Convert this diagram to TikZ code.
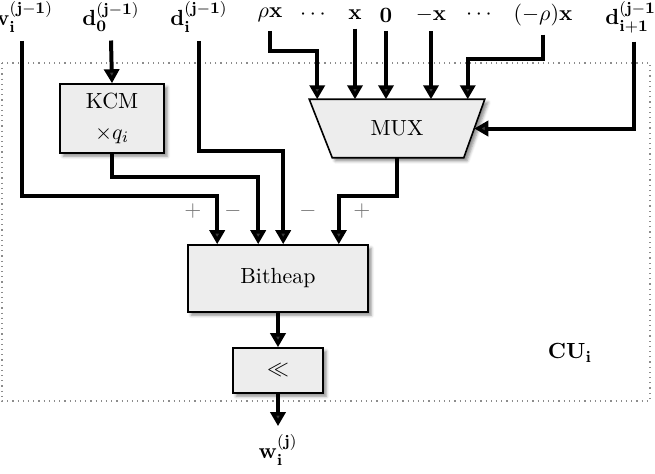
\documentclass[tikz,border=0pt,11pt]{standalone}
\usetikzlibrary{arrows.meta,calc,shadows.blur}

\tikzset{every picture/.style={line width=0.75pt}}
\tikzset{
  wire/.style={line width=2pt,-{Triangle[length=7pt,width=7.5pt]}},
  boxshadow/.style={blur shadow={shadow xshift=1.6pt,shadow yshift=-1.6pt,shadow blur radius=1.5pt,shadow opacity=45}},
  unit/.style={draw,line width=0.8pt,fill=black!7,inner sep=0pt,boxshadow},
  sig/.style={inner sep=4pt},
  sign/.style={text=black!55}
}

\begin{document}
\begin{tikzpicture}[x=0.5pt,y=0.5pt,yscale=-1]
	\useasboundingbox (0,0) rectangle (655,473);
	
	%Shape: CU frame
	\draw [black!45,dotted,line width=0.6pt] (2,63) rectangle (650,401);
	% Text Node
	\node (cu) at (570,353) {$\mathbf{CU_i}$};
	
	% Text Node
	\node [sig] (win) at (22,17) {$\mathbf{w_i^{(j-1)}}$};
	% Text Node
	\node [sig] (d0in) at (111,17) {$\mathbf{d_0^{(j-1)}}$};
	% Text Node
	\node [sig] (diin) at (199,17) {$\mathbf{d_i^{(j-1)}}$};
	% Text Node
	\node [sig] (rhox) at (270,15) {$\rho\mathbf{x}$};
	% Text Node
	\node (dots1) at (313,15) {$\cdots$};
	% Text Node
	\node [sig] (xpos) at (355,15) {$\mathbf{x}$};
	% Text Node
	\node [sig] (zero) at (386,15) {$\mathbf{0}$};
	% Text Node
	\node [sig] (xneg) at (431,15) {$-\mathbf{x}$};
	% Text Node
	\node (dots2) at (479,15) {$\cdots$};
	% Text Node
	\node [sig] (rhoneg) at (543,15) {$(-\rho)\mathbf{x}$};
	% Text Node
	\node [sig] (dnext) at (634,17) {$\mathbf{d_{i+1}^{(j-1)}}$};
	
	%Shape: KCM
	\node [unit,minimum width=52pt,minimum height=34.5pt,align=center] (kcm) at (112,118.5) {KCM\\[2pt]$\times q_i$};
	%Shape: MUX
	\node [minimum width=87pt,minimum height=28.5pt,inner sep=0pt] (mux) at (397,128.5) {};
	\path [draw,line width=0.8pt,fill=black!7,boxshadow] (mux.north west) -- (mux.north east) -- ($(mux.south east)+(-21,0)$) -- ($(mux.south west)+(23,0)$) -- cycle;
	\node (muxt) at (mux) {MUX};
	%Shape: Bitheap
	\node [unit,minimum width=90pt,minimum height=33.5pt] (bh) at (278,278.5) {Bitheap};
	%Shape: Shift
	\node [unit,minimum width=45pt,minimum height=22.5pt] (sh) at (278,370.5) {$\ll$};
	% Text Node
	\node [sig] (wout) at (278,450) {$\mathbf{w_i^{(j)}}$};
	
	%Lines into the mux
	\draw [wire] (rhox.south) |- ($(mux.north west)+(8,-48)$) -- ($(mux.north west)+(8,0)$);
	\draw [wire] (xpos.south) -- (xpos.south |- mux.north);
	\draw [wire] (zero.south) -- (zero.south |- mux.north);
	\draw [wire] (xneg.south) -- (xneg.south |- mux.north);
	\draw [wire] (rhoneg.south) |- ($(mux.north east)+(-17,-40)$) -- ($(mux.north east)+(-17,0)$);
	\draw [wire] (dnext.south) |- ($(mux.east)+(-10.5,0)$);
	
	%Lines into the bitheap
	\draw [wire] (d0in.south) -- (kcm.north);
	\draw [wire] (win.south) |- ($(bh.north west)+(30,-48)$) -- ($(bh.north west)+(30,0)$);
	\draw [wire] (kcm.south) |- ($(bh.north west)+(71,-67)$) -- ($(bh.north west)+(71,0)$);
	\draw [wire] (diin.south) |- ($(bh.north west)+(96,-93)$) -- ($(bh.north west)+(96,0)$);
	\draw [wire] (mux.south) |- ($(bh.north east)+(-30,-48)$) -- ($(bh.north east)+(-30,0)$);
	
	% Signs
	\node [sign] (s1) at (193,211) {$+$};
	\node [sign] (s2) at (233,211) {$-$};
	\node [sign] (s3) at (308,211) {$-$};
	\node [sign] (s4) at (362,211) {$+$};
	
	%Output
	\draw [wire] (bh) -- (sh);
	\draw [wire] (sh) -- (wout);
	
\end{tikzpicture}
\end{document}
